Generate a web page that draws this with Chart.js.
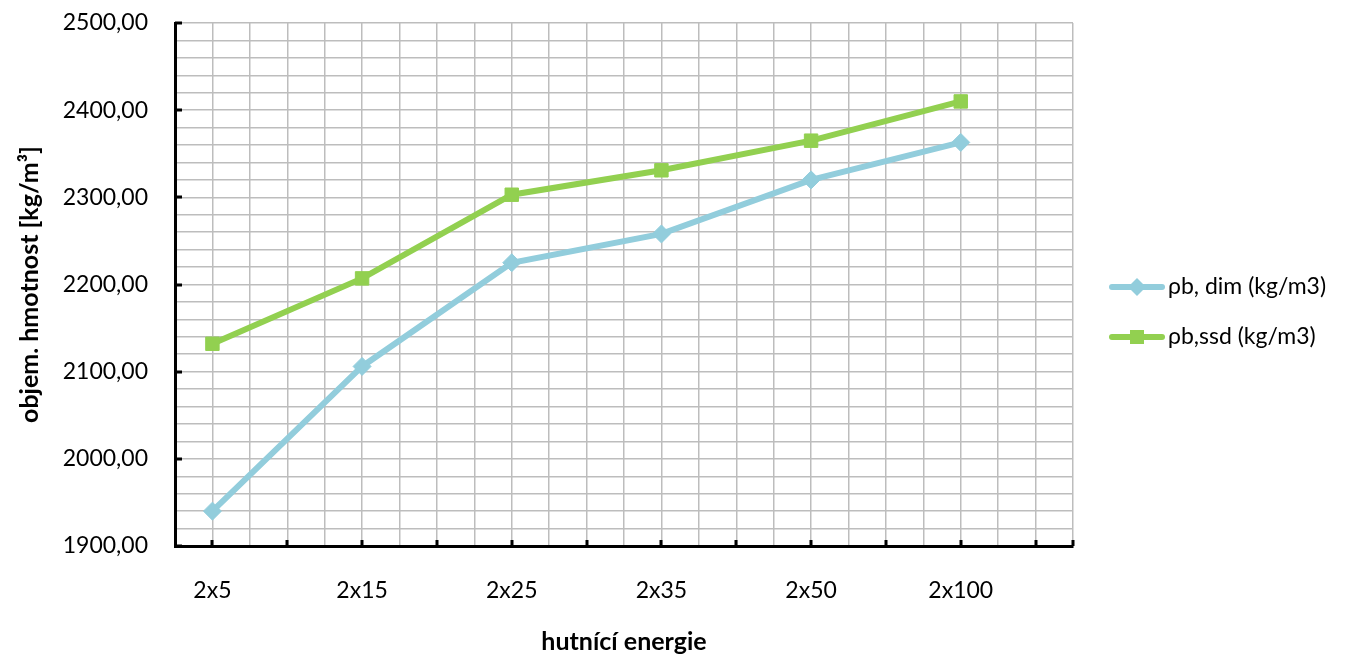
<!DOCTYPE html>
<html>
<head>
<meta charset="utf-8">
<script src="https://cdn.jsdelivr.net/npm/chart.js@4.4.1/dist/chart.umd.min.js"></script>
<style>
  body { margin: 0; background: #fff; }
  #wrap { width: 1349px; height: 658px; }
</style>
</head>
<body>
<div id="wrap"><canvas id="densityChart" width="1349" height="658"></canvas></div>
<script>
// compaction energy (x categories)
const energyLabels = ["2x5", "2x15", "2x25", "2x35", "2x50", "2x100"];

// bulk density, kg/m3
const rhoDim = [1940, 2106, 2225, 2258, 2320, 2363];
const rhoSsd = [2132, 2207, 2303, 2331, 2365, 2410];

// axis ranges
const yMin = 1900, yMax = 2500, yGridStep = 20, yLabelStep = 100;
const xMin = -0.25, xMax = 5.75, xGridStep = 0.25, xMarkStep = 0.5;

const FONT = "Lato, 'Open Sans', sans-serif";
const BLUE = "#92cddc";
const GREEN = "#92d050";

const toPoints = arr => arr.map((v, i) => ({ x: i, y: v }));

// small inward tick marks like the spreadsheet axes
const axisMarks = {
  id: "axisMarks",
  afterDraw(chart) {
    const { ctx, chartArea, scales: { x, y } } = chart;
    ctx.save();
    ctx.strokeStyle = "#000";
    ctx.lineWidth = 3;
    ctx.beginPath();
    for (let v = 0; v <= xMax + 1e-9; v += xMarkStep) {
      const px = Math.round(x.getPixelForValue(v));
      ctx.moveTo(px, chartArea.bottom);
      ctx.lineTo(px, chartArea.bottom - 6);
    }
    const pr = Math.round(x.getPixelForValue(xMax));
    ctx.moveTo(pr, chartArea.bottom);
    ctx.lineTo(pr, chartArea.bottom - 6);
    for (let v = yMin; v <= yMax; v += yLabelStep) {
      const py = Math.round(y.getPixelForValue(v));
      ctx.moveTo(chartArea.left, py);
      ctx.lineTo(chartArea.left + 7, py);
    }
    ctx.stroke();
    ctx.restore();
  }
};

// legend on the right: line with marker in the middle
const sideLegend = {
  id: "sideLegend",
  afterDraw(chart) {
    const { ctx } = chart;
    const rows = [287, 337];
    ctx.save();
    chart.data.datasets.forEach((ds, i) => {
      const cy = rows[i];
      ctx.strokeStyle = ds.borderColor;
      ctx.lineWidth = 6;
      ctx.lineCap = "round";
      ctx.beginPath();
      ctx.moveTo(1112, cy);
      ctx.lineTo(1162, cy);
      ctx.stroke();
      ctx.fillStyle = ds.borderColor;
      ctx.beginPath();
      if (ds.pointStyle === "rect") {
        ctx.rect(1137 - 7, cy - 7, 14, 14);
      } else {
        ctx.moveTo(1137, cy - 9);
        ctx.lineTo(1146, cy);
        ctx.lineTo(1137, cy + 9);
        ctx.lineTo(1128, cy);
        ctx.closePath();
      }
      ctx.fill();
      ctx.fillStyle = "#000";
      ctx.font = "23px " + FONT;
      ctx.textBaseline = "middle";
      ctx.fillText(ds.label, 1168, cy);
    });
    ctx.restore();
  }
};

new Chart(document.getElementById("densityChart"), {
  type: "line",
  data: {
    datasets: [
      {
        label: "ρb, dim (kg/m3)",
        data: toPoints(rhoDim),
        borderColor: BLUE,
        backgroundColor: BLUE,
        borderWidth: 6,
        pointStyle: "rectRot",
        pointRadius: 9,
        pointBorderWidth: 1,
        tension: 0
      },
      {
        label: "ρb,ssd (kg/m3)",
        data: toPoints(rhoSsd),
        borderColor: GREEN,
        backgroundColor: GREEN,
        borderWidth: 6,
        pointStyle: "rect",
        pointRadius: 9.5,
        pointBorderWidth: 1,
        tension: 0
      }
    ]
  },
  options: {
    responsive: false,
    animation: false,
    layout: { padding: { top: 23, right: 276, left: 0, bottom: 0 } },
    plugins: {
      legend: { display: false },
      tooltip: { enabled: false }
    },
    scales: {
      x: {
        type: "linear",
        min: xMin,
        max: xMax,
        afterFit: s => { s.height = 112; },
        grid: { color: "#bdbdbd", lineWidth: 1.5, drawTicks: false },
        border: { color: "#000", width: 3 },
        ticks: {
          stepSize: xGridStep,
          autoSkip: false,
          maxRotation: 0,
          padding: 31,
          color: "#000",
          font: { family: FONT, size: 23 },
          callback: v => {
            const r = Math.round(v);
            return Math.abs(v - r) < 1e-6 && energyLabels[r] ? energyLabels[r] : "";
          }
        },
        title: {
          display: true,
          text: "hutnící energie",
          color: "#000",
          font: { family: FONT, size: 25, weight: "bold" },
          padding: { top: 4, bottom: 1 }
        }
      },
      y: {
        min: yMin,
        max: yMax,
        afterFit: s => { s.width = 175; s.paddingTop = 0; s.paddingBottom = 0; },
        grid: { color: "#bdbdbd", lineWidth: 1.5, drawTicks: false },
        border: { color: "#000", width: 3 },
        ticks: {
          stepSize: yGridStep,
          autoSkip: false,
          padding: 27,
          color: "#000",
          font: { family: FONT, size: 23 },
          callback: v => (v % yLabelStep === 0 ? v.toFixed(2).replace(".", ",") : "")
        },
        title: {
          display: true,
          text: "objem. hmotnost [kg/m³]",
          color: "#000",
          font: { family: FONT, size: 25, weight: "bold" },
          padding: { top: 15, bottom: 0 }
        }
      }
    }
  },
  plugins: [axisMarks, sideLegend]
});
</script>
</body>
</html>
